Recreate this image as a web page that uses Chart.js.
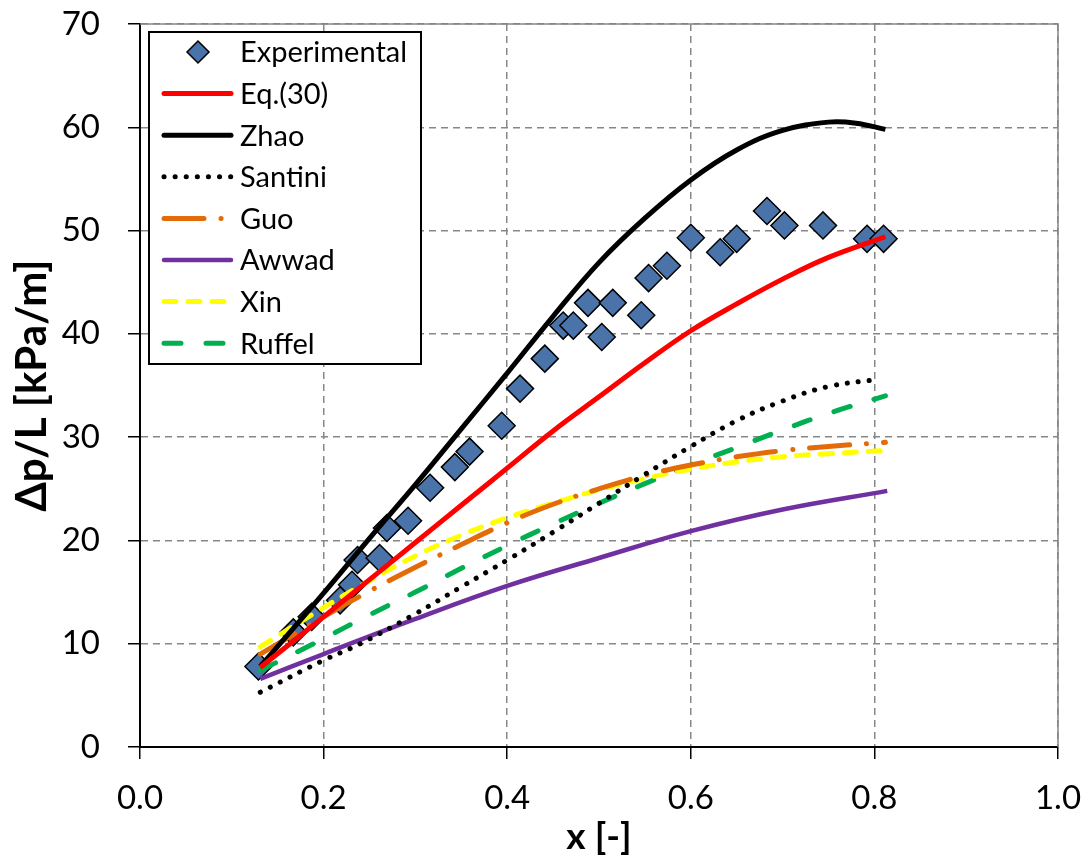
<!DOCTYPE html>
<html><head><meta charset="utf-8">
<script src="https://cdn.jsdelivr.net/npm/chart.js@4/dist/chart.umd.min.js"></script>
<style>html,body{margin:0;padding:0;background:#fff;}#wrap{width:1090px;height:863px;}</style>
</head><body><div id="wrap"><canvas id="c" width="1090" height="863"></canvas></div>
<script>
// ---- data ----
const expX = [0.129,0.167,0.187,0.218,0.231,0.237,0.261,0.269,0.292,0.316,0.343,0.359,0.394,0.414,0.441,0.461,0.472,0.488,0.503,0.515,0.546,0.554,0.574,0.600,0.632,0.650,0.683,0.702,0.744,0.792,0.810];
const expY = [7.8,11.1,12.6,14.2,15.7,18.1,18.3,21.2,21.9,25.1,27.1,28.6,31.1,34.7,37.6,40.8,40.8,43.0,39.7,43.0,41.8,45.4,46.6,49.3,47.9,49.2,51.9,50.5,50.5,49.2,49.2];

const eqX = [0.131,0.2,0.25,0.3,0.35,0.4,0.45,0.5,0.55,0.6,0.65,0.7,0.75,0.812];
const eqY = [7.7,12.6,16.2,19.8,23.4,27.0,30.6,33.9,37.2,40.3,42.9,45.3,47.4,49.4];

const zhaoX = [0.131,0.2,0.25,0.3,0.35,0.4,0.45,0.5,0.55,0.6,0.65,0.7,0.75,0.78,0.812];
const zhaoY = [7.8,14.9,20.2,25.4,30.8,36.2,41.7,46.9,51.2,54.9,57.8,59.7,60.5,60.4,59.8];

const santiniX = [0.131,0.2,0.24,0.3,0.35,0.4,0.45,0.5,0.55,0.6,0.65,0.7,0.75,0.805];
const santiniY = [5.3,8.4,10.0,12.9,15.5,18.1,20.8,23.6,26.4,29.1,31.6,33.5,34.9,35.6];

const guoX = [0.131,0.2,0.25,0.3,0.35,0.4,0.45,0.5,0.55,0.6,0.65,0.7,0.75,0.812];
const guoY = [9.0,12.6,15.1,17.4,19.6,21.7,23.5,25.0,26.3,27.3,28.1,28.7,29.1,29.5];

const awwadX = [0.131,0.2,0.3,0.4,0.5,0.6,0.7,0.814];
const awwadY = [6.6,9.0,12.4,15.6,18.3,20.9,23.0,24.8];

const xinX = [0.131,0.2,0.25,0.3,0.35,0.4,0.45,0.5,0.55,0.6,0.65,0.7,0.75,0.812];
const xinY = [9.7,13.5,16.1,18.5,20.5,22.2,23.6,24.9,26.0,26.9,27.6,28.1,28.4,28.7];

const ruffelX = [0.131,0.2,0.25,0.3,0.35,0.4,0.45,0.5,0.55,0.6,0.65,0.7,0.75,0.812];
const ruffelY = [7.4,10.5,12.8,15.0,17.3,19.5,21.6,23.6,25.5,27.3,29.0,30.7,32.3,34.0];

const xTickLabels = ['0.0','0.2','0.4','0.6','0.8','1.0'];
const yTickLabels = ['0','10','20','30','40','50','60','70'];
const seriesNames = ['Experimental','Eq.(30)','Zhao','Santini','Guo','Awwad','Xin','Ruffel'];

// ---- build ----
const pts = (xs, ys) => xs.map((x, i) => ({x, y: ys[i]}));
const FONT = 'Lato, "Open Sans", sans-serif';

function lineDs(label, xs, ys, color, dash, width) {
  return {
    label, data: pts(xs, ys), showLine: true, borderColor: color, backgroundColor: color,
    borderWidth: width || 5, borderDash: dash || [], borderCapStyle: dash && dash.length ? 'round' : 'butt',
    borderJoinStyle: 'round',
    pointRadius: 0, pointHoverRadius: 0, tension: 0.4, fill: false, order: 1
  };
}

const datasets = [
  {label: seriesNames[0], data: pts(expX, expY), pointStyle: 'rectRot', pointRadius: 13.5,
   backgroundColor: '#4A74A9', borderColor: '#000', borderWidth: 1.5, showLine: false, order: 10},
  lineDs(seriesNames[1], eqX, eqY, '#FF0000'),
  lineDs(seriesNames[2], zhaoX, zhaoY, '#000000'),
  lineDs(seriesNames[3], santiniX, santiniY, '#000000', [0.1, 11], 5),
  lineDs(seriesNames[4], guoX, guoY, '#E36C09', [40, 17, 0.1, 17]),
  lineDs(seriesNames[5], awwadX, awwadY, '#7030A0', [], 4.5),
  lineDs(seriesNames[6], xinX, xinY, '#FFFF00', [12, 12]),
  lineDs(seriesNames[7], ruffelX, ruffelY, '#00B050', [17, 25])
];

const framePlugin = {
  id: 'frame',
  afterDraw(chart) {
    const {ctx, chartArea: a} = chart;
    ctx.save();
    ctx.strokeStyle = '#878787'; ctx.lineWidth = 1.5;
    ctx.beginPath();
    ctx.moveTo(a.left, a.top); ctx.lineTo(a.right, a.top); ctx.lineTo(a.right, a.bottom);
    ctx.stroke();
    ctx.restore();
  }
};

const legendPlugin = {
  id: 'inLegend',
  afterDraw(chart) {
    const {ctx} = chart;
    const bx = 149, by = 32, bw = 272, bh = 332, rowH = 41.6, y0 = 52;
    ctx.save();
    ctx.fillStyle = '#fff'; ctx.fillRect(bx, by, bw, bh);
    ctx.strokeStyle = '#000'; ctx.lineWidth = 2; ctx.strokeRect(bx, by, bw, bh);
    chart.data.datasets.forEach((ds, i) => {
      const y = y0 + i * rowH;
      if (!ds.showLine) {
        const r = 11, cx = 198;
        ctx.beginPath();
        ctx.moveTo(cx, y - r); ctx.lineTo(cx + r, y); ctx.lineTo(cx, y + r); ctx.lineTo(cx - r, y); ctx.closePath();
        ctx.fillStyle = ds.backgroundColor; ctx.fill();
        ctx.lineWidth = ds.borderWidth; ctx.strokeStyle = ds.borderColor; ctx.stroke();
      } else {
        ctx.beginPath();
        ctx.setLineDash(ds.borderDash);
        ctx.lineCap = 'round';
        ctx.lineWidth = ds.borderWidth; ctx.strokeStyle = ds.borderColor;
        ctx.moveTo(164, y); ctx.lineTo(231, y); ctx.stroke();
        ctx.setLineDash([]);
      }
      ctx.fillStyle = '#000'; ctx.font = '29px ' + FONT; ctx.textBaseline = 'middle'; ctx.textAlign = 'left';
      ctx.fillText(ds.label, 240, y + 1);
    });
    ctx.restore();
  }
};

new Chart(document.getElementById('c'), {
  type: 'scatter',
  data: {datasets},
  options: {
    responsive: false, animation: false, devicePixelRatio: 1,
    layout: {padding: {top: 24, right: 32, left: 0, bottom: 0}},
    plugins: {legend: {display: false}, tooltip: {enabled: false}},
    scales: {
      x: {
        type: 'linear', min: 0, max: 1,
        ticks: {stepSize: 0.2, padding: 20, color: '#000', maxRotation: 0, font: {family: FONT, size: 33},
                callback: (v) => xTickLabels[Math.round(v / 0.2)]},
        grid: {color: '#878787', lineWidth: 1.5, tickColor: '#000', tickLength: 12, tickWidth: 1.5, tickBorderDash: []},
        border: {color: '#000', width: 2, dash: [7, 5]},
        title: {display: true, text: 'x [-]', color: '#000', font: {family: FONT, size: 37, weight: 'bold'}, padding: {top: 0, bottom: 4}},
        afterFit(s) { s.height = 116; s.paddingLeft = 0; s.paddingRight = 0; }
      },
      y: {
        type: 'linear', min: 0, max: 70,
        ticks: {stepSize: 10, padding: 28, color: '#000', font: {family: FONT, size: 33},
                callback: (v) => yTickLabels[Math.round(v / 10)]},
        grid: {color: '#878787', lineWidth: 1.5, tickColor: '#000', tickLength: 12, tickWidth: 1.5, tickBorderDash: []},
        border: {color: '#000', width: 2, dash: [7, 5]},
        title: {display: true, text: 'Δp/L [kPa/m]', color: '#000', font: {family: FONT, size: 42, weight: 'bold'}, padding: {top: 7, bottom: 0}},
        afterFit(s) { s.width = 140; s.paddingTop = 0; s.paddingBottom = 0; }
      }
    }
  },
  plugins: [framePlugin, legendPlugin]
});
</script></body></html>
